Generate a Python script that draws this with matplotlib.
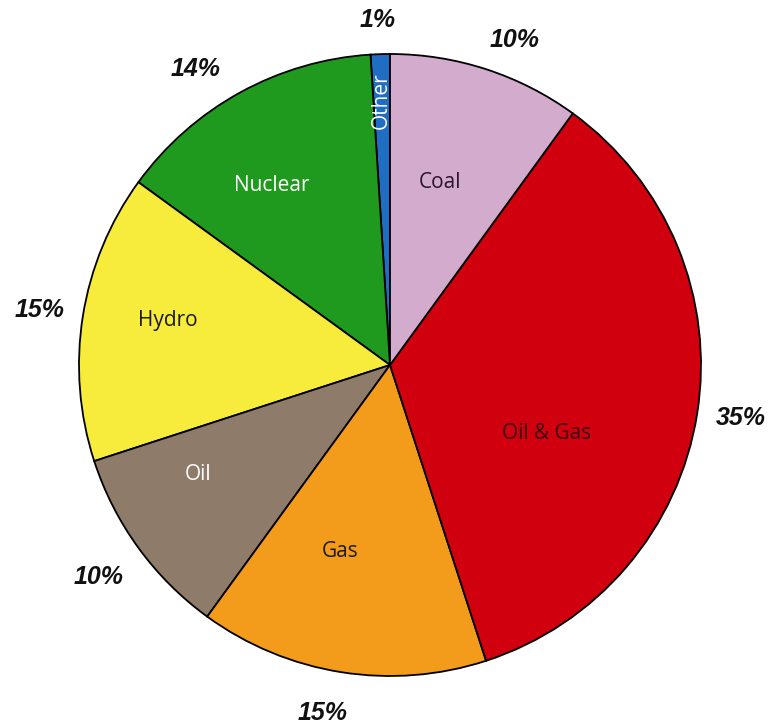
import numpy as np
import matplotlib.pyplot as plt

# energy mix shares, counterclockwise from 12 o'clock
sources = ['Other', 'Nuclear', 'Hydro', 'Oil', 'Gas', 'Oil & Gas', 'Coal']
shares = [1, 14, 15, 10, 15, 35, 10]
colors = ['#1f6ec4', '#1f9a1f', '#f7eb3c', '#8f7b69', '#f39c1b', '#d0000f', '#d3abcd']
text_colors = ['white', 'white', '#1a1a1a', 'white', '#1a1a1a', '#3a0a10', '#2a1530']

# label layout (radius fraction, angle offset in deg)
name_r = [0.85, 0.69, 0.73, 0.71, 0.62, 0.55, 0.61]
name_da = [0, 4.5, -2.4, -6.3, -6, -14.5, 2.6]
pct_r = [1.11, 1.14, 1.14, 1.16, 1.14, 1.14, 1.12]
pct_da = [0.2, 4.5, 0, 0, -2, 0.4, -3]

W, H = 770, 724
cx, cy, R = 390, 359, 311

fig = plt.figure(figsize=(W/100, H/100), dpi=100)
ax = fig.add_axes([0, 0, 1, 1])

wedges, _ = ax.pie(shares, colors=colors, startangle=90, counterclock=True,
                   center=(cx, cy), radius=R, frame=True,
                   wedgeprops=dict(edgecolor='black', linewidth=1.3))
ax.set_xlim(0, W)
ax.set_ylim(0, H)
ax.set_aspect('equal')
ax.axis('off')

for i, w in enumerate(wedges):
    mid = (w.theta1 + w.theta2) / 2
    a = np.radians(mid + name_da[i])
    x = cx + name_r[i]*R*np.cos(a)
    y = cy + name_r[i]*R*np.sin(a)
    rot = 90 if sources[i] == 'Other' else 0
    ax.text(x, y, sources[i], ha='center', va='center', rotation=rot,
            color=text_colors[i], fontsize=15, family='Open Sans')
    a = np.radians(mid + pct_da[i])
    x = cx + pct_r[i]*R*np.cos(a)
    y = cy + pct_r[i]*R*np.sin(a)
    ax.text(x, y, f'{shares[i]}%', ha='center', va='center', fontsize=18,
            fontweight='bold', fontstyle='italic', family='Liberation Sans',
            color='#111111')

fig.savefig('out.png', dpi=100)
